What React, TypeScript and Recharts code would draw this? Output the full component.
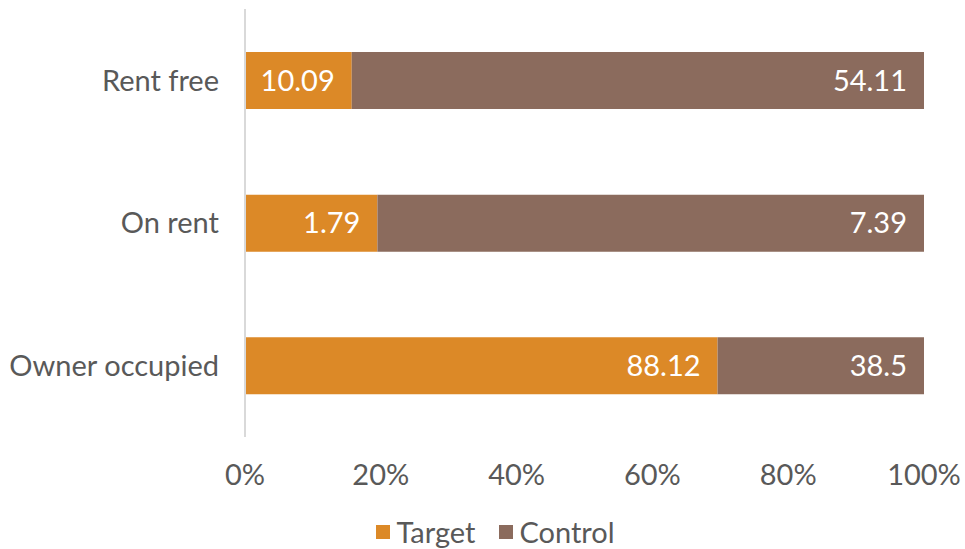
import { BarChart, Bar, XAxis, YAxis, Legend, LabelList } from "recharts";

const categories = ["Rent free", "On rent", "Owner occupied"];
const targetValues = [10.09, 1.79, 88.12];
const controlValues = [54.11, 7.39, 38.5];
const xTicks = [0, 0.2, 0.4, 0.6, 0.8, 1];

const TARGET_COLOR = "#DC8927";
const CONTROL_COLOR = "#8B6B5D";
const TEXT_COLOR = "#595959";
const FONT = "Lato, 'Open Sans', sans-serif";

const data = categories.map((name, i) => ({
  name,
  target: targetValues[i],
  control: controlValues[i],
}));

function LegendContent() {
  const items = [
    { label: "Target", color: TARGET_COLOR },
    { label: "Control", color: CONTROL_COLOR },
  ];
  return (
    <div
      style={{
        display: "flex",
        justifyContent: "center",
        alignItems: "center",
        paddingLeft: 26,
        paddingTop: 8,
        lineHeight: 1,
        fontFamily: FONT,
        fontSize: 29,
        color: TEXT_COLOR,
      }}
    >
      {items.map((it) => (
        <div key={it.label} style={{ display: "flex", alignItems: "center", margin: "0 12px" }}>
          <span style={{ width: 14, height: 14, background: it.color, marginRight: 6 }} />
          <span>{it.label}</span>
        </div>
      ))}
    </div>
  );
}

export default function App() {
  return (
    <div style={{ position: "absolute", left: 0, top: 0, background: "#fff" }}>
      <BarChart
        width={965}
        height={549}
        data={data}
        layout="vertical"
        stackOffset="expand"
        barSize={57}
        margin={{ top: 9, right: 41, left: 0, bottom: 0 }}
        style={{ fontFamily: FONT }}
      >
        <XAxis
          type="number"
          domain={[0, 1]}
          ticks={xTicks}
          tickFormatter={(v: number) => `${Math.round(v * 100)}%`}
          axisLine={false}
          tickLine={false}
          tick={{ fill: TEXT_COLOR, fontSize: 29 }}
          tickMargin={21}
          height={72}
          interval={0}
        />
        <YAxis
          type="category"
          dataKey="name"
          width={245}
          axisLine={{ stroke: "#D9D9D9", strokeWidth: 2 }}
          tickLine={false}
          tick={{ fill: TEXT_COLOR, fontSize: 29 }}
          tickMargin={20}
        />
        <Legend
          verticalAlign="bottom"
          height={40}
          wrapperStyle={{ left: 0, width: 965 }}
          content={() => <LegendContent />}
        />
        <Bar dataKey="target" stackId="a" fill={TARGET_COLOR} isAnimationActive={false}>
          <LabelList dataKey="target" position="insideRight" offset={17} fill="#fff" fontSize={29} />
        </Bar>
        <Bar dataKey="control" stackId="a" fill={CONTROL_COLOR} isAnimationActive={false}>
          <LabelList dataKey="control" position="insideRight" offset={17} fill="#fff" fontSize={29} />
        </Bar>
      </BarChart>
    </div>
  );
}
